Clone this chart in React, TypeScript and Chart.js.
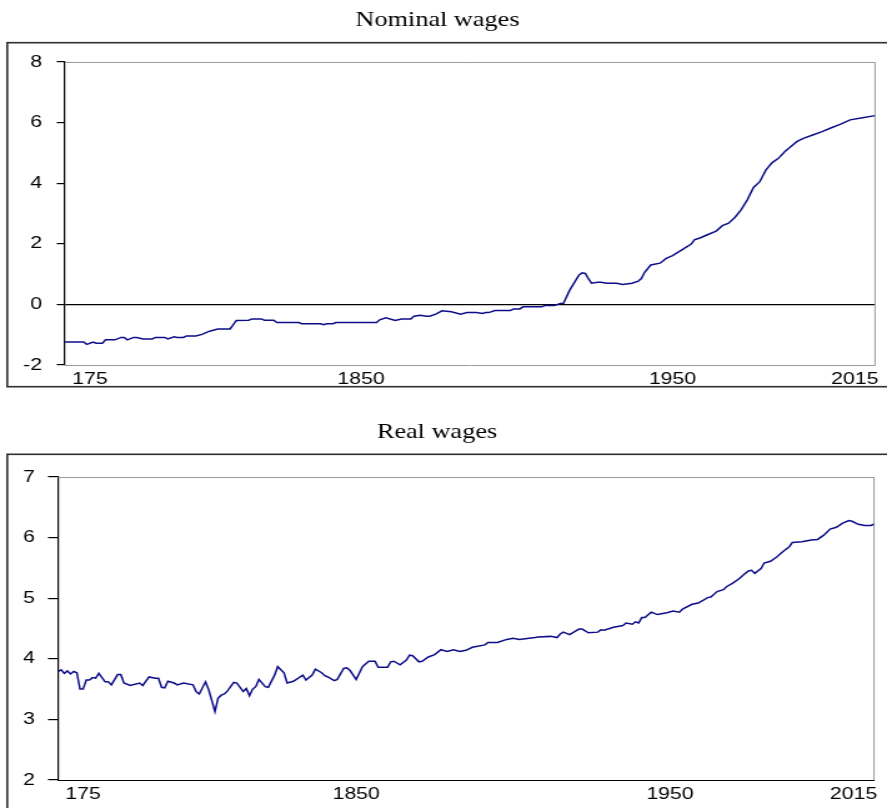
import React, { useEffect, useRef } from "react";
import { Chart, registerables } from "chart.js";
Chart.register(...registerables);

// ---------- data ----------
const nominalYears = [
  1755, 1761, 1762, 1764, 1765, 1767, 1768, 1771, 1773, 1774, 1775, 1777, 1778, 1780, 1783, 1784, 1787, 1788, 1790, 1791,
  1793, 1794, 1797, 1799, 1801, 1802, 1804, 1808, 1810, 1814, 1815, 1818, 1819, 1822, 1823, 1830, 1831, 1837, 1838, 1839,
  1841, 1842, 1850, 1855, 1856, 1858, 1861, 1863, 1866, 1867, 1869, 1871, 1872, 1874, 1876, 1879, 1882, 1884, 1887, 1889,
  1890, 1891, 1893, 1898, 1899, 1901, 1902, 1908, 1909, 1912, 1914, 1915, 1917, 1920, 1921, 1922, 1923, 1924, 1926, 1927,
  1929, 1932, 1934, 1937, 1939, 1940, 1941, 1943, 1946, 1948, 1950, 1953, 1956, 1957, 1959, 1961, 1964, 1966, 1968, 1970,
  1972, 1974, 1976, 1978, 1980, 1982, 1984, 1986, 1988, 1990, 1992, 1995, 1998, 2001, 2004, 2007, 2011, 2015,
];
const nominalValues = [
  -1.24, -1.24, -1.32, -1.24, -1.28, -1.28, -1.17, -1.17, -1.09, -1.09, -1.17, -1.09, -1.09, -1.14, -1.14, -1.09, -1.09, -1.14, -1.07, -1.09,
  -1.09, -1.04, -1.04, -0.99, -0.9, -0.87, -0.81, -0.81, -0.53, -0.52, -0.48, -0.48, -0.52, -0.52, -0.6, -0.6, -0.64, -0.64, -0.67, -0.64,
  -0.64, -0.6, -0.6, -0.6, -0.51, -0.44, -0.53, -0.48, -0.48, -0.39, -0.36, -0.39, -0.39, -0.32, -0.21, -0.24, -0.32, -0.27, -0.27, -0.3,
  -0.27, -0.27, -0.2, -0.2, -0.15, -0.15, -0.08, -0.08, -0.04, -0.04, 0.03, 0.04, 0.47, 0.97, 1.04, 1.02, 0.85, 0.7, 0.73, 0.73,
  0.7, 0.7, 0.66, 0.7, 0.77, 0.85, 1.05, 1.3, 1.36, 1.52, 1.61, 1.8, 1.99, 2.13, 2.2, 2.29, 2.42, 2.6, 2.68, 2.87,
  3.12, 3.45, 3.86, 4.05, 4.44, 4.68, 4.82, 5.04, 5.21, 5.38, 5.48, 5.59, 5.7, 5.83, 5.95, 6.09, 6.16, 6.23,
];

const realYears = [
  1755, 1756, 1757, 1758, 1759, 1760, 1761, 1762, 1763, 1764, 1765, 1766, 1767, 1768, 1770, 1771, 1772, 1774, 1775, 1776,
  1778, 1781, 1782, 1784, 1786, 1787, 1788, 1789, 1790, 1792, 1793, 1795, 1798, 1799, 1800, 1802, 1803, 1805, 1806, 1807,
  1808, 1809, 1811, 1812, 1814, 1815, 1816, 1817, 1818, 1819, 1821, 1822, 1824, 1825, 1827, 1828, 1830, 1833, 1834, 1836,
  1837, 1839, 1840, 1841, 1843, 1844, 1846, 1847, 1848, 1850, 1852, 1854, 1856, 1857, 1860, 1861, 1862, 1864, 1866, 1867,
  1868, 1870, 1871, 1873, 1875, 1877, 1879, 1881, 1883, 1885, 1887, 1891, 1892, 1895, 1898, 1900, 1902, 1907, 1908, 1912,
  1914, 1915, 1916, 1918, 1920, 1921, 1922, 1924, 1927, 1928, 1929, 1932, 1935, 1936, 1938, 1939, 1940, 1941, 1942, 1944,
  1946, 1949, 1951, 1953, 1954, 1957, 1959, 1962, 1963, 1965, 1967, 1968, 1970, 1972, 1974, 1975, 1976, 1977, 1979, 1980,
  1982, 1984, 1986, 1988, 1989, 1992, 1995, 1997, 1999, 2001, 2003, 2005, 2007, 2008, 2010, 2012, 2014, 2015,
];
const realValues = [
  3.79, 3.82, 3.76, 3.8, 3.75, 3.79, 3.77, 3.5, 3.5, 3.65, 3.65, 3.69, 3.68, 3.76, 3.62, 3.62, 3.57, 3.74, 3.74, 3.6,
  3.56, 3.6, 3.56, 3.7, 3.68, 3.68, 3.53, 3.52, 3.63, 3.6, 3.57, 3.6, 3.57, 3.46, 3.42, 3.62, 3.49, 3.13, 3.35, 3.4,
  3.42, 3.47, 3.61, 3.6, 3.46, 3.51, 3.39, 3.5, 3.54, 3.66, 3.54, 3.53, 3.73, 3.87, 3.77, 3.6, 3.63, 3.73, 3.65, 3.73,
  3.83, 3.77, 3.72, 3.7, 3.64, 3.66, 3.84, 3.85, 3.81, 3.66, 3.87, 3.96, 3.96, 3.86, 3.86, 3.95, 3.96, 3.9, 3.98, 4.06,
  4.05, 3.95, 3.96, 4.03, 4.07, 4.15, 4.12, 4.15, 4.12, 4.14, 4.19, 4.23, 4.27, 4.27, 4.32, 4.34, 4.32, 4.35, 4.36, 4.37,
  4.35, 4.41, 4.44, 4.4, 4.46, 4.49, 4.49, 4.43, 4.44, 4.48, 4.47, 4.52, 4.55, 4.59, 4.57, 4.61, 4.59, 4.68, 4.68, 4.77,
  4.73, 4.76, 4.79, 4.77, 4.82, 4.9, 4.92, 5.01, 5.02, 5.11, 5.14, 5.19, 5.25, 5.32, 5.41, 5.45, 5.46, 5.41, 5.49, 5.58,
  5.61, 5.68, 5.77, 5.85, 5.92, 5.93, 5.96, 5.97, 6.04, 6.14, 6.17, 6.24, 6.28, 6.27, 6.22, 6.2, 6.2, 6.22,
];

const xTickYears = [1763, 1850, 1950, 2008.5];
const xTickLabels = ["175", "1850", "1950", "2015"];
const yearMin = 1755;
const yearMax = 2015;

// ---------- layout helpers ----------
const CANVAS_W = 710; // internal width, stretched to 887 display px
const DISPLAY_W = 887;
const LINE_COLOR = "#0d0d88";
const GRAY = "#9a9a9a";
const TICK_FONT = { family: "'Liberation Sans', Arial, sans-serif", size: 17, weight: "normal" as const };
const TITLE_FONT = { family: "'Liberation Serif', 'Times New Roman', serif", size: 21, weight: "normal" as const };

type PanelSpec = {
  title: string;
  years: number[];
  values: number[];
  yMin: number;
  yMax: number;
  yStep: number;
  canvasH: number;
  titlePadTop: number;
  titlePadBottom: number;
  yAxisW: number;
  padRight: number;
  xAxisH: number;
  tickLen: number;
  tickPad: number;
  zeroLine: boolean;
  bottomColor: string;
  frameTop: number;
  frameBottom: number;
};

function makeConfig(p: PanelSpec): any {
  const framePlugin = {
    id: "panelFrame",
    beforeDatasetsDraw(chart: any) {
      const { ctx, chartArea } = chart;
      ctx.save();
      ctx.strokeStyle = GRAY;
      ctx.lineWidth = 1;
      ctx.beginPath();
      ctx.moveTo(chartArea.left, chartArea.top + 0.5);
      ctx.lineTo(chartArea.right, chartArea.top + 0.5);
      ctx.moveTo(chartArea.right, chartArea.top);
      ctx.lineTo(chartArea.right, chartArea.bottom);
      ctx.stroke();
      ctx.restore();
    },
    afterDraw(chart: any) {
      const { ctx } = chart;
      ctx.save();
      ctx.strokeStyle = "#2e2e2e";
      ctx.lineWidth = 1.6;
      ctx.strokeRect(5.8, p.frameTop, 1000, p.frameBottom - p.frameTop);
      ctx.restore();
    },
  };

  return {
    type: "line",
    data: {
      datasets: [
        {
          data: p.years.map((yr, i) => ({ x: yr, y: p.values[i] })),
          borderColor: LINE_COLOR,
          borderWidth: 1.5,
          pointRadius: 0,
          tension: 0,
          fill: false,
        },
      ],
    },
    options: {
      responsive: false,
      animation: false,
      devicePixelRatio: 1,
      layout: { padding: { left: 0, right: p.padRight, top: 0, bottom: 0 } },
      plugins: {
        legend: { display: false },
        tooltip: { enabled: false },
        title: {
          display: true,
          text: p.title,
          color: "#000",
          font: TITLE_FONT,
          padding: { top: p.titlePadTop, bottom: p.titlePadBottom },
        },
      },
      scales: {
        x: {
          type: "linear",
          min: yearMin,
          max: yearMax,
          afterBuildTicks: (s: any) => {
            s.ticks = xTickYears.map((v) => ({ value: v }));
          },
          afterFit: (s: any) => {
            s.height = p.xAxisH;
            s.paddingLeft = 0;
            s.paddingRight = 0;
          },
          ticks: {
            autoSkip: false,
            maxRotation: 0,
            minRotation: 0,
            padding: 4,
            color: "#000",
            font: TICK_FONT,
            callback: (_v: any, i: number) => xTickLabels[i],
          },
          grid: { display: false, drawTicks: false },
          border: { display: true, color: p.bottomColor, width: 1 },
        },
        y: {
          min: p.yMin,
          max: p.yMax,
          afterFit: (s: any) => {
            s.width = p.yAxisW;
          },
          ticks: { stepSize: p.yStep, padding: p.tickPad, color: "#000", font: TICK_FONT },
          grid: {
            color: (c: any) => (p.zeroLine && c.tick && c.tick.value === 0 ? "#000" : "rgba(0,0,0,0)"),
            tickColor: "#000",
            tickLength: p.tickLen,
            lineWidth: 1.2,
          },
          border: { display: true, color: "#000", width: 1.2 },
        },
      },
    },
    plugins: [framePlugin],
  };
}

const nominalSpec: PanelSpec = {
  title: "Nominal wages",
  years: nominalYears,
  values: nominalValues,
  yMin: -2,
  yMax: 8,
  yStep: 2,
  canvasH: 400,
  titlePadTop: 7.8,
  titlePadBottom: 29,
  yAxisW: 52.03,
  padRight: CANVAS_W - 700.4,
  xAxisH: 35,
  tickLen: 6.6,
  tickPad: 11.8,
  zeroLine: true,
  bottomColor: GRAY,
  frameTop: 42.7,
  frameBottom: 386.7,
};

const realSpec: PanelSpec = {
  title: "Real wages",
  years: realYears,
  values: realValues,
  yMin: 2,
  yMax: 7,
  yStep: 1,
  canvasH: 408,
  titlePadTop: 19.4,
  titlePadBottom: 32.4,
  yAxisW: 46.43,
  padRight: CANVAS_W - 699.6,
  xAxisH: 28,
  tickLen: 8,
  tickPad: 10.4,
  zeroLine: false,
  bottomColor: "#000",
  frameTop: 54.3,
  frameBottom: 600,
};

function Panel({ spec, top }: { spec: PanelSpec; top: number }) {
  const ref = useRef<HTMLCanvasElement | null>(null);
  useEffect(() => {
    if (!ref.current) return;
    const chart = new Chart(ref.current, makeConfig(spec));
    return () => chart.destroy();
  }, [spec]);
  return (
    <canvas
      ref={ref}
      width={CANVAS_W}
      height={spec.canvasH}
      style={{
        position: "absolute",
        left: 0,
        top,
        width: `${DISPLAY_W}px`,
        height: `${spec.canvasH}px`,
      }}
    />
  );
}

export default function App() {
  return (
    <div style={{ position: "absolute", left: 0, top: 0, width: DISPLAY_W, height: 808, background: "#fff", overflow: "hidden" }}>
      <Panel spec={nominalSpec} top={0} />
      <Panel spec={realSpec} top={400} />
    </div>
  );
}
